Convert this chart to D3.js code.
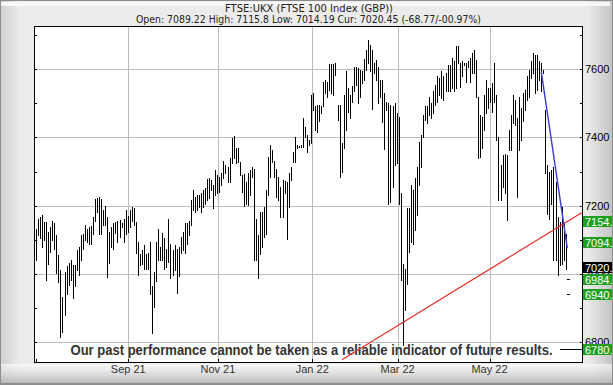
<!DOCTYPE html>
<html>
<head>
<meta charset="utf-8">
<script src="https://cdn.jsdelivr.net/npm/d3@7"></script>
<style>
    body { margin: 0; background: #fff; }
    svg { display: block; }
</style>
</head>
<body>
<div id="chart"></div>
<script>
// daily high / low, FTSE 100
var highs = [
    7133, 7162, 7167, 7172, 7153, 7151, 7123, 7138, 7154, 7150,
    7113, 7056, 7010, 6932, 7006, 7022, 7033, 7040, 7027, 7025,
    7069, 7079, 7113, 7118, 7143, 7133, 7138, 7140, 7167, 7221,
    7223, 7226, 7221, 7187, 7200, 7167, 7123, 7138, 7148, 7153,
    7155, 7157, 7148, 7160, 7187, 7170, 7187, 7197, 7192, 7153,
    7094, 7059, 7069, 7084, 7059, 7061, 7094, 6963, 7006, 7094,
    7131, 7079, 7121, 7104, 7074, 7160, 7089, 7069, 7084, 7074,
    7079, 7108, 7123, 7150, 7150, 7155, 7216, 7246, 7226, 7231,
    7231, 7236, 7246, 7252, 7278, 7282, 7275, 7260, 7304, 7290,
    7285, 7295, 7331, 7319, 7314, 7339, 7398, 7404, 7368, 7368,
    7329, 7290, 7292, 7270, 7295, 7304, 7314, 7309, 7162, 7113,
    7182, 7182, 7197, 7246, 7344, 7378, 7363, 7332, 7309, 7285,
    7255, 7275, 7273, 7270, 7295, 7314, 7358, 7402, 7378, 7375,
    7378, 7456, 7432, 7407, 7393, 7525, 7530, 7491, 7496, 7496,
    7491, 7564, 7569, 7564, 7615, 7616, 7615, 7618, 7496, 7496,
    7383, 7525, 7594, 7545, 7525, 7551, 7608, 7608, 7603, 7598,
    7594, 7630, 7657, 7687, 7672, 7657, 7618, 7628, 7608, 7569,
    7569, 7530, 7505, 7500, 7496, 7491, 7500, 7471, 7461, 7236,
    7030, 7015, 7192, 7192, 7260, 7246, 7280, 7314, 7388, 7407,
    7466, 7491, 7491, 7520, 7500, 7535, 7554, 7579, 7574, 7594,
    7579, 7589, 7613, 7613, 7633, 7623, 7667, 7667, 7618, 7623,
    7618, 7618, 7623, 7633, 7647, 7657, 7628, 7520, 7466, 7461,
    7525, 7569, 7545, 7545, 7559, 7618, 7525, 7402, 7319, 7349,
    7353, 7349, 7422, 7466, 7525, 7510, 7456, 7520, 7486, 7530,
    7540, 7579, 7598, 7623, 7647, 7643, 7643, 7623, 7618, 7598,
    7481, 7319, 7300, 7304, 7314, 7270, 7167, 7153, 7197, 7148,
    7116
];
var lows = [
    7040, 7113, 7104, 7079, 7099, 6983, 7030, 7064, 7099, 7074,
    7003, 6976, 6814, 6829, 6878, 6942, 6968, 6981, 6929, 6963,
    7010, 6998, 7040, 7074, 7099, 7094, 7089, 7089, 7116, 7155,
    7182, 7118, 7118, 7143, 7143, 6991, 7032, 7079, 7074, 7120,
    7094, 7108, 7138, 7092, 7118, 7123, 7138, 7154, 7143, 7061,
    6996, 7025, 7030, 7015, 7015, 7013, 6942, 6826, 6903, 6979,
    7040, 7040, 7040, 7015, 7020, 7035, 6989, 6996, 7010, 6944,
    6994, 7061, 7069, 7061, 7089, 7113, 7143, 7187, 7182, 7187,
    7195, 7182, 7197, 7204, 7216, 7223, 7246, 7192, 7231, 7236,
    7241, 7260, 7280, 7295, 7270, 7270, 7324, 7339, 7324, 7329,
    7290, 7241, 7199, 7206, 7202, 7231, 7285, 7040, 7040, 6989,
    7059, 7079, 7108, 7118, 7231, 7285, 7329, 7285, 7226, 7216,
    7167, 7167, 7236, 7101, 7197, 7275, 7329, 7329, 7368, 7371,
    7373, 7373, 7402, 7358, 7378, 7383, 7481, 7422, 7417, 7447,
    7471, 7491, 7530, 7520, 7540, 7530, 7525, 7584, 7451, 7285,
    7300, 7368, 7422, 7476, 7456, 7505, 7535, 7554, 7500, 7520,
    7559, 7569, 7598, 7618, 7594, 7483, 7589, 7569, 7500, 7520,
    7444, 7365, 7481, 7206, 7211, 7255, 7319, 7324, 7206, 6981,
    6790, 6893, 6971, 7064, 7094, 7089, 7128, 7172, 7260, 7314,
    7402, 7451, 7442, 7466, 7456, 7471, 7496, 7505, 7525, 7515,
    7510, 7535, 7535, 7535, 7545, 7535, 7545, 7618, 7549, 7579,
    7613, 7564, 7608, 7564, 7589, 7589, 7520, 7339, 7344, 7368,
    7422, 7471, 7486, 7505, 7476, 7505, 7393, 7216, 7216, 7255,
    7236, 7157, 7363, 7363, 7442, 7437, 7226, 7363, 7393, 7447,
    7481, 7510, 7520, 7574, 7589, 7530, 7540, 7569, 7535, 7589,
    7295, 7177, 7162, 7206, 7040, 7040, 6996, 7025, 7030, 7040,
    7014
];

var monthLabels = ["Sep 21", "Nov 21", "Jan 22", "Mar 22", "May 22"];
var monthIndex = [45.3, 89.3, 135.6, 177.5, 222.6];
var priceTicks = [6800, 7000, 7200, 7400, 7600];
var minorTicks = [6800, 6900, 7000, 7100, 7200, 7300, 7400, 7500, 7600, 7700];

var levelValues = [7154, 7094, 7020, 6984, 6940, 6780];
var levelLabels = ["7154.", "7094.", "7020.", "6984.", "6940.", "6780."];
var levelColors = ["#1f9f1f", "#1f9f1f", "#000000", "#1f9f1f", "#1f9f1f", "#1f9f1f"];
var targetValues = [6984, 6940];

var redTrend = [[150.2, 6748], [268, 7180]];
var blueTrend = [[248, 7593], [260.8, 7075]];

var titleText = "FTSE:UKX (FTSE 100 Index (GBP))";
var quoteText = "Open: 7089.22 High: 7115.8 Low: 7014.19 Cur: 7020.45 (-68.77/-00.97%)";
var noteText = "Our past performance cannot be taken as a reliable indicator of future results.";

var W = 613, H = 385;
var plotL = 34, plotR = 582, plotT = 26, plotB = 362;

var svg = d3.select("#chart").append("svg")
    .attr("width", W)
    .attr("height", H);

var defs = svg.append("defs");

var hg = defs.append("linearGradient").attr("id", "hg");
hg.append("stop").attr("offset", "0%").attr("stop-color", "#cfcfcf");
hg.append("stop").attr("offset", "3%").attr("stop-color", "#ececec");
hg.append("stop").attr("offset", "96%").attr("stop-color", "#ebebeb");
hg.append("stop").attr("offset", "100%").attr("stop-color", "#c4c4c4");

var vg = defs.append("linearGradient").attr("id", "vg")
    .attr("x1", 0).attr("y1", 0).attr("x2", 0).attr("y2", 1);
vg.append("stop").attr("offset", "0%").attr("stop-color", "#ffffff").attr("stop-opacity", 0.6);
vg.append("stop").attr("offset", "100%").attr("stop-color", "#b5b5b5").attr("stop-opacity", 0.9);

defs.append("clipPath").attr("id", "plotclip")
    .append("rect")
    .attr("x", plotL).attr("y", plotT)
    .attr("width", plotR - plotL).attr("height", plotB - plotT);

// frame
svg.append("rect")
    .attr("width", W).attr("height", H)
    .attr("fill", "#8c8c8c");
svg.append("rect")
    .attr("x", 1).attr("y", 1)
    .attr("width", W - 2).attr("height", H - 3)
    .attr("fill", "url(#hg)");
svg.append("rect")
    .attr("x", 1).attr("y", 2)
    .attr("width", W - 4).attr("height", 4)
    .attr("fill", "#f7f7f7");
svg.append("rect")
    .attr("x", 1).attr("y", 364)
    .attr("width", W - 2).attr("height", H - 366)
    .attr("fill", "url(#vg)");

svg.append("rect")
    .attr("x", plotL).attr("y", plotT)
    .attr("width", plotR - plotL).attr("height", plotB - plotT)
    .attr("fill", "#ffffff");

var x = d3.scaleLinear()
    .domain([0, 268])
    .range([36, 582]);

var y = d3.scaleLinear()
    .domain([6741.5, 7727])
    .range([plotB, plotT]);

function px(v) { return Math.round(v) + 0.5; }

// grid
svg.append("g").selectAll("line")
    .data(priceTicks)
    .enter().append("line")
    .attr("x1", plotL).attr("x2", plotR)
    .attr("y1", function (d) { return px(y(d)); })
    .attr("y2", function (d) { return px(y(d)); })
    .attr("stroke", "#bdbdbd");

svg.append("g").selectAll("line")
    .data(monthIndex)
    .enter().append("line")
    .attr("x1", function (d) { return px(x(d)); })
    .attr("x2", function (d) { return px(x(d)); })
    .attr("y1", plotT).attr("y2", plotB)
    .attr("stroke", "#bdbdbd");

// disclaimer sits under the marks
svg.append("text")
    .attr("x", 70.5).attr("y", 355)
    .attr("textLength", 482)
    .attr("lengthAdjust", "spacingAndGlyphs")
    .style("font-family", "'Liberation Sans', Arial, sans-serif")
    .style("font-size", "14px")
    .style("font-weight", "bold")
    .style("fill", "#333")
    .text(noteText);

var plot = svg.append("g").attr("clip-path", "url(#plotclip)");

plot.selectAll(".bar")
    .data(highs)
    .enter().append("line")
    .attr("class", "bar")
    .attr("x1", function (d, i) { return px(x(i)); })
    .attr("x2", function (d, i) { return px(x(i)); })
    .attr("y1", function (d) { return Math.round(y(d)); })
    .attr("y2", function (d, i) { return Math.round(y(lows[i])) + 1; })
    .attr("stroke", "#000")
    .attr("stroke-width", 1);

var line = d3.line()
    .x(function (d) { return x(d[0]); })
    .y(function (d) { return y(d[1]); });

plot.append("path")
    .datum(redTrend)
    .attr("d", line)
    .attr("fill", "none")
    .attr("stroke", "#e8302a")
    .attr("stroke-width", 1.2);

plot.append("path")
    .datum(blueTrend)
    .attr("d", line)
    .attr("fill", "none")
    .attr("stroke", "#3a3ad6")
    .attr("stroke-width", 1.4);

plot.selectAll(".target")
    .data(targetValues)
    .enter().append("line")
    .attr("class", "target")
    .attr("x1", x(260.6)).attr("x2", x(260.6) + 3)
    .attr("y1", function (d) { return px(y(d)); })
    .attr("y2", function (d) { return px(y(d)); })
    .attr("stroke", "#000");

plot.append("line")
    .attr("x1", x(257.2)).attr("x2", plotR)
    .attr("y1", px(y(6780))).attr("y2", px(y(6780)))
    .attr("stroke", "#000");

// axis frame and ticks
svg.append("rect")
    .attr("x", plotL + 0.5).attr("y", plotT + 0.5)
    .attr("width", plotR - plotL).attr("height", plotB - plotT)
    .attr("fill", "none")
    .attr("stroke", "#000");

svg.append("g").selectAll("line")
    .data(minorTicks)
    .enter().append("line")
    .attr("x1", plotL).attr("x2", plotL + 3)
    .attr("y1", function (d) { return px(y(d)); })
    .attr("y2", function (d) { return px(y(d)); })
    .attr("stroke", "#000");

svg.append("g").selectAll("line")
    .data(minorTicks)
    .enter().append("line")
    .attr("x1", plotR - 2).attr("x2", plotR + 1)
    .attr("y1", function (d) { return px(y(d)); })
    .attr("y2", function (d) { return px(y(d)); })
    .attr("stroke", "#000");

svg.append("g").selectAll("line")
    .data([0].concat(monthIndex))
    .enter().append("line")
    .attr("x1", function (d) { return px(x(d)); })
    .attr("x2", function (d) { return px(x(d)); })
    .attr("y1", plotB - 3).attr("y2", plotB)
    .attr("stroke", "#000");

svg.append("g").selectAll("text")
    .data(priceTicks)
    .enter().append("text")
    .attr("x", 585)
    .attr("y", function (d) { return y(d) + 4; })
    .style("font-family", "'Liberation Sans', Arial, sans-serif")
    .style("font-size", "11px")
    .style("fill", "#000")
    .text(function (d) { return d; });

svg.append("g").selectAll("text")
    .data(monthLabels)
    .enter().append("text")
    .attr("x", function (d, i) { return x(monthIndex[i]); })
    .attr("y", 373)
    .attr("text-anchor", "middle")
    .style("font-family", "'Liberation Sans', Arial, sans-serif")
    .style("font-size", "11px")
    .style("fill", "#333")
    .text(function (d) { return d; });

// level boxes on the right axis
var level = svg.append("g").selectAll("g")
    .data(levelValues)
    .enter().append("g");

level.append("rect")
    .attr("x", plotR + 1)
    .attr("y", function (d) { return Math.round(y(d)) - 5; })
    .attr("width", 29).attr("height", 11)
    .attr("fill", function (d, i) { return levelColors[i]; });

level.append("text")
    .attr("x", plotR + 3)
    .attr("y", function (d) { return Math.round(y(d)) + 4.5; })
    .style("font-family", "'Liberation Sans', Arial, sans-serif")
    .style("font-size", "11px")
    .style("fill", "#fff")
    .text(function (d, i) { return levelLabels[i]; });

// title
svg.append("text")
    .attr("x", 309).attr("y", 12)
    .attr("text-anchor", "middle")
    .attr("textLength", 168)
    .attr("lengthAdjust", "spacingAndGlyphs")
    .style("font-family", "'DejaVu Sans', Verdana, sans-serif")
    .style("font-size", "10.5px")
    .style("fill", "#222")
    .text(titleText);

svg.append("text")
    .attr("x", 308.5).attr("y", 23)
    .attr("text-anchor", "middle")
    .attr("textLength", 345)
    .attr("lengthAdjust", "spacingAndGlyphs")
    .style("font-family", "'DejaVu Sans', Verdana, sans-serif")
    .style("font-size", "10.5px")
    .style("fill", "#222")
    .text(quoteText);
</script>
</body>
</html>
